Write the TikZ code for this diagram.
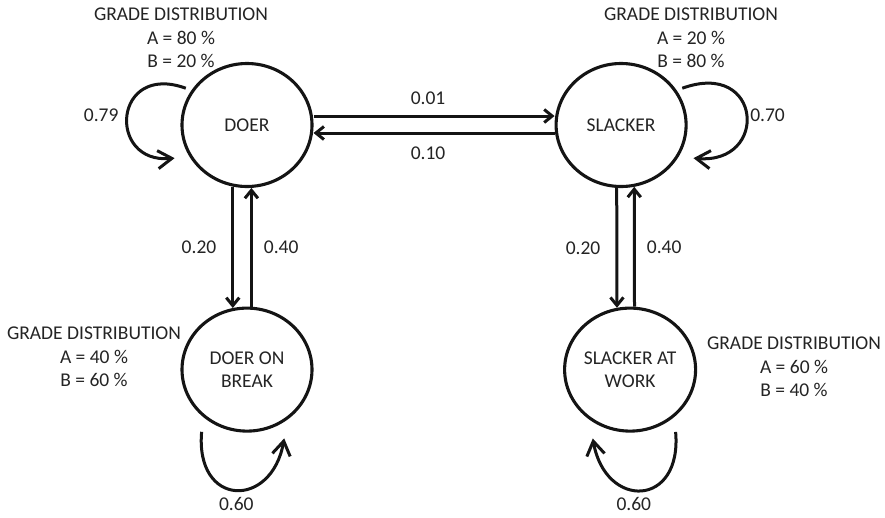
\documentclass[tikz,border=0pt]{standalone}
\usepackage{fontspec}
\setmainfont{Carlito}
\usepackage{xcolor}
\definecolor{InkDark}{RGB}{20,20,20}
\definecolor{TextGray}{RGB}{36,36,36}
\usepackage{tikz}
\usetikzlibrary{arrows.meta,positioning,shapes.geometric}

\begin{document}
\begin{tikzpicture}[
    x=1pt,y=1pt,
    font=\fontsize{19.5}{23.5}\selectfont,
    state/.style={ellipse,draw=InkDark,line width=3.1pt,minimum width=130pt,minimum height=123pt,inner sep=0pt,align=center,text=TextGray},
    arr/.style={-{Straight Barb[length=8pt,width=13pt]},line width=3pt,InkDark},
    looparr/.style={-{Straight Barb[length=14pt,width=18pt]},line width=3pt,InkDark},
    lbl/.style={inner sep=0pt,text=TextGray},
    dist/.style={align=center,inner sep=0pt,text=TextGray},
  ]
    \useasboundingbox (0,0) rectangle (885,-517);
    \node[state] (doer) at (247,-125) {DOER};
    \node[state,right=241pt of doer] (slacker) {SLACKER};
    \node[state,below=118.5pt of doer] (dob) {DOER ON\\BREAK};
    \node[state,below=118.5pt of slacker,xshift=9pt] (saw) {SLACKER AT\\WORK};
    % grade distributions
    \node[dist] (distdoer) at (181,-38) {GRADE DISTRIBUTION\\A = 80 \%\\B = 20 \%};
    \node[dist] (distslacker) at (691,-38) {GRADE DISTRIBUTION\\A = 20 \%\\B = 80 \%};
    \node[dist] (distdob) at (94,-357) {GRADE DISTRIBUTION\\A = 40 \%\\B = 60 \%};
    \node[dist] (distsaw) at (794,-367) {GRADE DISTRIBUTION\\A = 60 \%\\B = 40 \%};
    % transitions
    \draw[arr] ([yshift=9pt]doer.east) -- node[lbl,above=10pt,xshift=-6pt] {0.01} ([yshift=9pt]slacker.west);
    \draw[arr] ([yshift=-8pt]slacker.west) -- node[lbl,below=12pt,xshift=-6pt] {0.10} ([yshift=-8pt]doer.east);
    \draw[arr] (doer.257) -- node[lbl,left=15pt] {0.20} (dob.103);
    \draw[arr] (dob.86) -- node[lbl,right=11pt] {0.40} (doer.274);
    \draw[arr] (slacker.266) -- node[lbl,left=15pt] {0.20} (saw.102);
    \draw[arr] (saw.86) -- node[lbl,right=11pt] {0.40} (slacker.282);
    % self loops
    \draw[looparr,shorten <=6pt,shorten >=15pt] (doer.148) to[out=160,in=185,looseness=3.2] node[lbl,left=10pt] {0.79} (doer.209);
    \draw[looparr,shorten <=6pt,shorten >=15pt] (slacker.32) to[out=20,in=355,looseness=3.5] node[lbl,right=5pt] {0.70} (slacker.331);
    \draw[looparr,shorten <=15pt,shorten >=19pt] (dob.227) to[out=265,in=260,looseness=2.75] node[lbl,below=10pt] {0.60} (dob.309);
    \draw[looparr,shorten <=15pt,shorten >=19pt] (saw.313) to[out=275,in=280,looseness=2.75] node[lbl,below=10pt,xshift=-7pt] {0.60} (saw.231);
  \end{tikzpicture}
\end{document}
